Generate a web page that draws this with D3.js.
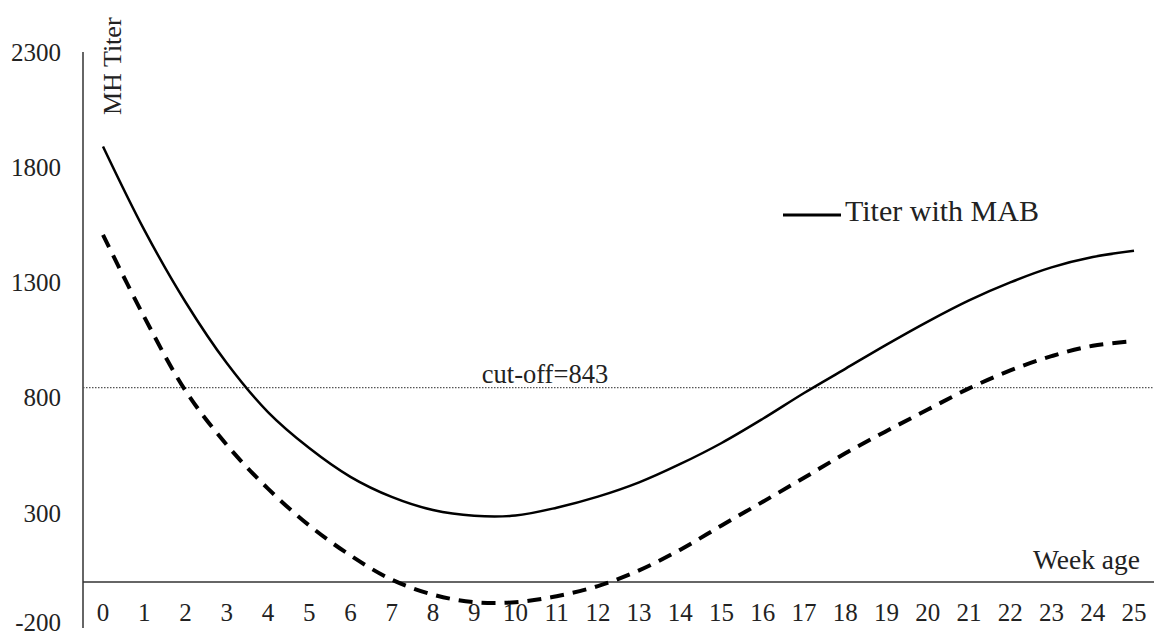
<!DOCTYPE html>
<html>
<head>
<meta charset="utf-8">
<script src="https://cdn.jsdelivr.net/npm/d3@7"></script>
<style>
  body { margin: 0; background: #fff; }
  text { font-family: "Liberation Serif", "Times New Roman", serif; fill: #222; }
</style>
</head>
<body>
<div id="plot"></div>
<script>
// Week ages on the category axis
const weeks = d3.range(0, 26);

// Titer with maternal antibody (solid line)
const titerMAB = [1890, 1528, 1215, 950, 737, 581, 456, 369, 312, 287, 288, 322, 370, 432, 512, 603, 708, 820, 925, 1030, 1130, 1222, 1300, 1365, 1410, 1437];

// Second series (dashed line)
const titerDashed = [1506, 1150, 830, 595, 405, 245, 115, 10, -55, -88, -88, -62, -18, 50, 140, 245, 348, 452, 558, 655, 748, 840, 918, 980, 1025, 1045];

const yTicks = [-200, 300, 800, 1300, 1800, 2300];
const cutoff = 843;

const width = 1154;
const height = 638;

const svg = d3.select("#plot")
  .append("svg")
  .attr("width", width)
  .attr("height", height);

const x = d3.scalePoint()
  .domain(weeks)
  .range([103, 1134]);

const y = d3.scaleLinear()
  .domain([-200, 2300])
  .range([628, 52]);

const axisX = 83; // y axis position

// Y axis line
svg.append("line")
  .attr("x1", axisX).attr("x2", axisX)
  .attr("y1", y(2300)).attr("y2", y(-200))
  .attr("stroke", "#333")
  .attr("stroke-width", 1.5);

// Y tick labels (lowest one nudged up so it stays in the frame)
svg.selectAll(".ylab")
  .data(yTicks)
  .enter().append("text")
  .attr("class", "ylab")
  .attr("x", 61)
  .attr("y", d => Math.min(y(d), 622))
  .attr("dy", "0.35em")
  .attr("text-anchor", "end")
  .style("font-size", "25px")
  .text(d => d);

// Horizontal axis at zero
svg.append("line")
  .attr("x1", axisX).attr("x2", width)
  .attr("y1", y(0)).attr("y2", y(0))
  .attr("stroke", "#333")
  .attr("stroke-width", 1.5);

// X tick labels
svg.selectAll(".xlab")
  .data(weeks)
  .enter().append("text")
  .attr("class", "xlab")
  .attr("x", d => x(d))
  .attr("y", 612)
  .attr("dy", "0.35em")
  .attr("text-anchor", "middle")
  .style("font-size", "25px")
  .text(d => d);

// Cut-off line
svg.append("line")
  .attr("x1", axisX).attr("x2", width)
  .attr("y1", y(cutoff)).attr("y2", y(cutoff))
  .attr("stroke", "#555")
  .attr("stroke-width", 1.2)
  .attr("stroke-dasharray", "1.5,1.5");

svg.append("text")
  .attr("x", 545)
  .attr("y", y(cutoff) - 5)
  .attr("text-anchor", "middle")
  .style("font-size", "26.5px")
  .text("cut-off=" + cutoff);

// Curves
const line = d3.line()
  .x((d, i) => x(weeks[i]))
  .y(d => y(d))
  .curve(d3.curveCatmullRom.alpha(0.5));

svg.append("path")
  .datum(titerMAB)
  .attr("d", line)
  .attr("fill", "none")
  .attr("stroke", "#000")
  .attr("stroke-width", 2.5);

svg.append("path")
  .datum(titerDashed)
  .attr("d", line)
  .attr("fill", "none")
  .attr("stroke", "#000")
  .attr("stroke-width", 4)
  .attr("stroke-dasharray", "14,9");

// Axis titles
svg.append("text")
  .attr("transform", "translate(121,115) rotate(-90)")
  .style("font-size", "26px")
  .text("MH Titer");

svg.append("text")
  .attr("x", 1140)
  .attr("y", 569)
  .attr("text-anchor", "end")
  .style("font-size", "27.5px")
  .text("Week age");

// Legend
svg.append("line")
  .attr("x1", 783).attr("x2", 841)
  .attr("y1", 215).attr("y2", 215)
  .attr("stroke", "#000")
  .attr("stroke-width", 3);

svg.append("text")
  .attr("x", 845)
  .attr("y", 221)
  .style("font-size", "30px")
  .text("Titer with MAB");
</script>
</body>
</html>
